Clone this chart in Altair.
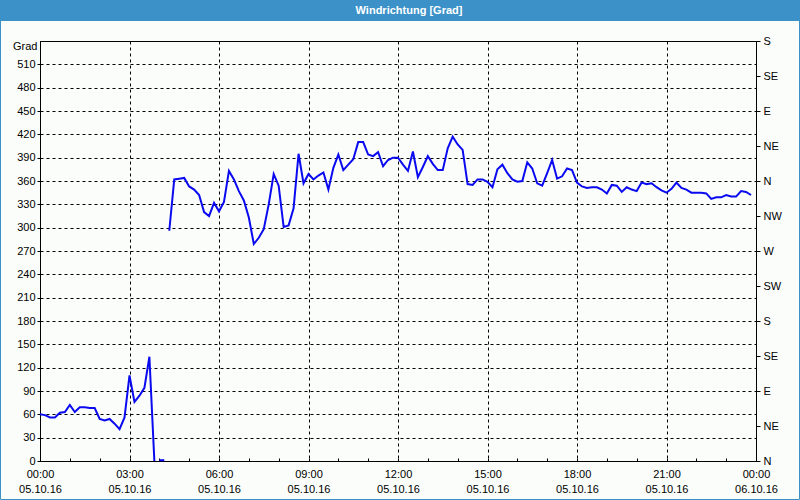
import altair as alt
import pandas as pd

# 10-minute samples of wind direction [deg], 05.10.2016
seg1_vals = [60, 59, 56, 56, 62, 63, 72, 63, 69, 69, 68, 68, 54, 52, 54, 48,
             41, 56, 110, 76, 84, 94, 134, 0]
seg2_vals = [1, 1]
seg3_vals = [296, 362, 363, 364, 353, 349, 342, 320, 315, 332, 321, 333, 373, 362,
             347, 335, 313, 279, 287, 298, 330, 369, 354, 301, 303, 325, 395, 357,
             369, 362, 367, 371, 349, 377, 394, 374, 381, 388, 410, 410, 394, 392,
             397, 379, 387, 390, 390, 381, 373, 398, 365, 378, 392, 382, 374, 374,
             402, 417, 407, 400, 356, 355, 362, 362, 359, 352, 375, 381, 370, 362,
             359, 360, 384, 376, 357, 354, 370, 387, 363, 366, 376, 374, 358, 353,
             351, 352, 352, 349, 344, 355, 354, 346, 352, 349, 347, 358, 356, 357,
             352, 348, 345, 350, 358, 351, 349, 345, 345, 345, 344, 337, 339, 339,
             342, 340, 340, 347, 346, 342]

compass = ["N", "NE", "E", "SE", "S", "SW", "W", "NW", "N", "NE", "E", "SE", "S"]
left_ticks = list(range(0, 540, 30))
right_ticks = list(range(0, 541, 45))

rows = []
idx = 0
for seg, vals in ((1, seg1_vals), (2, seg2_vals), (3, seg3_vals)):
    for v in vals:
        m = idx * 10
        rows.append({"time": f"2016-10-05T{m // 60:02d}:{m % 60:02d}:00", "value": v, "seg": seg})
        idx += 1
df = pd.DataFrame(rows)

def dt(h):
    if h >= 24:
        return alt.DateTime(year=2016, month=10, date=6, hours=h - 24, minutes=0)
    return alt.DateTime(year=2016, month=10, date=5, hours=h, minutes=0)

xdomain = [dt(0), dt(24)]
major = [dt(h) for h in range(0, 25, 3)]
minor = [dt(h) for h in range(0, 25, 1)]

FONT = "Liberation Sans"
BLUE = "#3c91c8"

line = alt.Chart(df).mark_line(color="#0a0af0", strokeWidth=2).encode(
    x=alt.X("time:T", scale=alt.Scale(domain=xdomain),
            axis=alt.Axis(values=major, grid=True, gridColor="black", gridDash=[3, 3],
                          gridOpacity=1, ticks=False, domainColor="black",
                          labelExpr="[timeFormat(datum.value, '%H:%M'), timeFormat(datum.value, '%d.%m.%y')]",
                          labelPadding=7, labelLineHeight=15, labelBaseline="top",
                          labelFont=FONT, labelFontSize=11, labelColor="black",
                          labelFlush=False, labelOverlap=False, title=None)),
    y=alt.Y("value:Q", scale=alt.Scale(domain=[0, 540]),
            axis=alt.Axis(values=left_ticks, grid=True, gridColor="black", gridDash=[3, 3],
                          gridOpacity=1, tickSize=3, tickColor="black", domainColor="black",
                          labelPadding=2, labelFont=FONT, labelFontSize=11, labelColor="black",
                          title="Grad", titleAngle=0, titleAlign="right", titleBaseline="middle",
                          titleX=-3, titleY=5, titleFont=FONT, titleFontSize=11,
                          titleFontWeight="normal", titleColor="black")),
    detail="seg:N",
)

ghost = alt.Chart(df).mark_line(opacity=0).encode(
    x=alt.X("time:T", scale=alt.Scale(domain=xdomain),
            axis=alt.Axis(orient="top", offset=-420, values=minor, grid=False, labels=False,
                          domain=False, ticks=True, tickSize=3, tickColor="black", title=None)),
    y=alt.Y("value:Q", scale=alt.Scale(domain=[0, 540]),
            axis=alt.Axis(orient="right", values=right_ticks, grid=False, tickSize=4,
                          tickColor="black", domainColor="black", labelPadding=3,
                          labelExpr="[" + ",".join(f"'{c}'" for c in compass) + "][round(datum.value/45)]",
                          labelFont=FONT, labelFontSize=11, labelColor="black", title=None)),
    detail="seg:N",
)

one = alt.Data(values=[{"k": 1}])
bar = alt.Chart(one).mark_rect(color=BLUE).encode(
    x=alt.value(-40), x2=alt.value(760), y=alt.value(-41), y2=alt.value(-20))
border = alt.Chart(one).mark_rect(fillOpacity=0, stroke=BLUE, strokeWidth=1).encode(
    x=alt.value(-39.5), x2=alt.value(759.5), y=alt.value(-40.5), y2=alt.value(458.5))
title = alt.Chart(one).mark_text(color="white", font=FONT, fontSize=11, fontWeight="bold",
                                 align="center", baseline="middle").encode(
    x=alt.value(369), y=alt.value(-30.5), text=alt.value("Windrichtung [Grad]"))

chart = alt.layer(line, ghost, bar, border, title).resolve_scale(
    x="independent", y="independent"
).properties(
    width=716, height=420,
    padding={"left": 40, "top": 41, "right": 44, "bottom": 39},
    autosize=alt.AutoSizeParams(type="none"),
    background="#fbfdfb",
).configure_view(stroke="black", strokeWidth=1)

chart.save("out.html", embed_options={"renderer": "svg", "actions": False})
